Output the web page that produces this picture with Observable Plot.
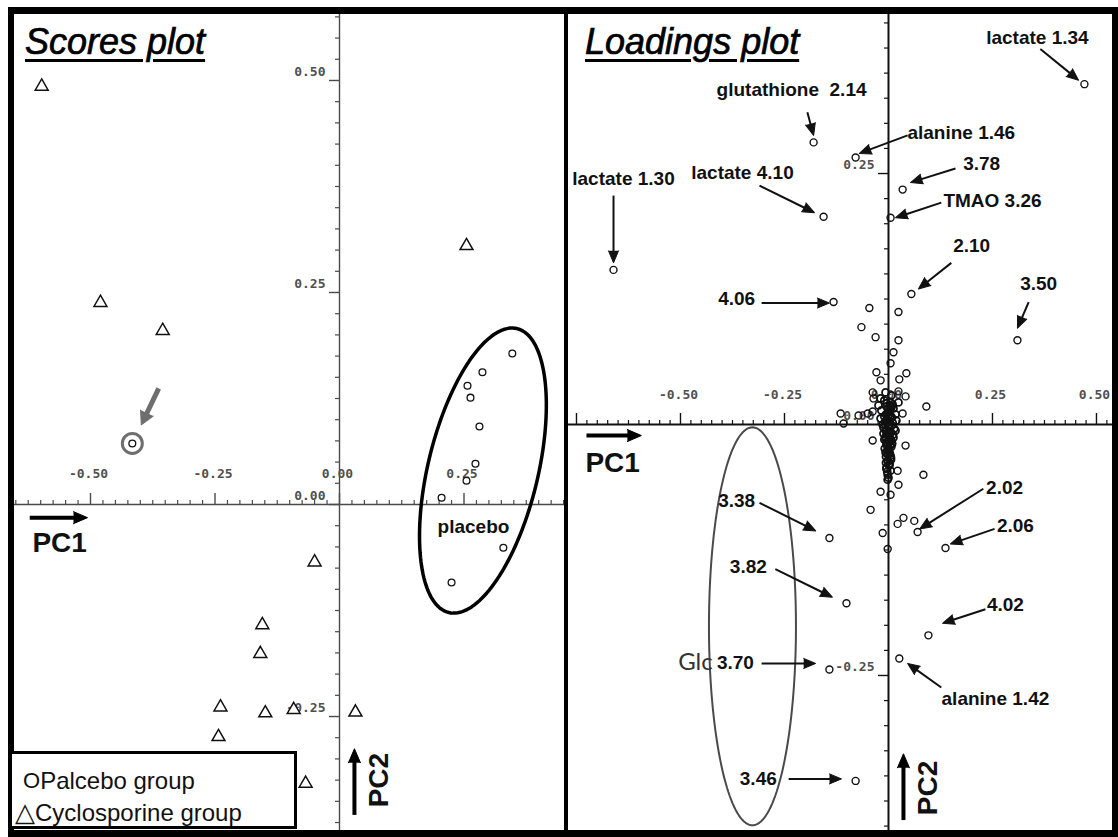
<!DOCTYPE html>
<html><head><meta charset="utf-8">
<script src="https://cdn.jsdelivr.net/npm/d3@7"></script>
<script src="https://cdn.jsdelivr.net/npm/@observablehq/plot@0.6"></script>
<style>
body{margin:0;background:#fff;}
#wrap{position:relative;width:1118px;height:837px;overflow:hidden;background:#fff;font-family:"Liberation Sans",Arial,sans-serif;}
.bar{position:absolute;background:#000;}
.panel{position:absolute;top:14px;}
.panel svg{overflow:visible;}
.title{position:absolute;top:24px;font-style:italic;font-size:36px;line-height:36px;color:#000;-webkit-text-stroke:0.7px #000;text-decoration:underline;text-decoration-thickness:3px;text-underline-offset:5px;white-space:nowrap;}
.legend{position:absolute;left:9px;top:751px;width:282px;height:72px;border:3px solid #000;background:#fff;font-size:24px;color:#111;}
.legend span{position:absolute;white-space:nowrap;}
</style></head><body>
<div id="wrap">
  <div id="scores" class="panel" style="left:14px"></div>
  <div id="loadings" class="panel" style="left:568px"></div>
  <div class="bar" style="left:8px;top:7px;width:1110px;height:7px"></div>
  <div class="bar" style="left:8px;top:7px;width:6px;height:830px"></div>
  <div class="bar" style="left:8px;top:830px;width:1110px;height:7px"></div>
  <div class="bar" style="left:564px;top:7px;width:4px;height:830px"></div>
  <div class="bar" style="left:1112px;top:7px;width:6px;height:830px"></div>
  <div class="title" style="left:25px">Scores plot</div>
  <div class="title" style="left:585px">Loadings plot</div>
  <div class="legend">
    <span style="left:11px;top:13px"><span style="position:relative;font-size:22px;top:-1px">O</span>Palcebo group</span>
    <span style="left:3px;top:43px"><span style="position:relative;font-family:'DejaVu Sans';font-size:26px">△</span>Cyclosporine group</span>
  </div>
</div>
<script>
// ---------- Scores plot data ----------
const placeboPC1 = [-0.416, 0.347, 0.287, 0.257, 0.263, 0.281, 0.273, 0.255, 0.205, 0.329, 0.225];
const placeboPC2 = [0.072, 0.178, 0.156, 0.140, 0.126, 0.092, 0.048, 0.028, 0.008, -0.051, -0.092];
const cycloPC1 = [-0.598, -0.480, -0.355, 0.255, -0.050, -0.155, -0.159, -0.239, -0.149, -0.092, 0.032, -0.243, -0.068];
const cycloPC2 = [0.493, 0.238, 0.205, 0.305, -0.068, -0.142, -0.176, -0.239, -0.246, -0.242, -0.245, -0.274, -0.329];
const scoreXTickLabels = ["-0.50", "-0.25", "0.00", "0.25"];
const scoreYTickLabels = ["0.50", "0.25", "0.00", "-0.25"];

// ---------- Loadings plot data ----------
const loadLabels = ["lactate 1.34", "glutathione  2.14", "alanine 1.46", "3.78", "TMAO 3.26", "lactate 4.10", "lactate 1.30", "4.06", "2.10", "3.50", "3.38", "3.82", "3.70", "3.46", "2.02", "2.06", "4.02", "alanine 1.42"];
const labeledPC1 = [0.471, -0.180, -0.079, 0.034, 0.005, -0.156, -0.661, -0.132, 0.055, 0.310, -0.142, -0.101, -0.142, -0.079, 0.070, 0.137, 0.096, 0.026];
const labeledPC2 = [0.339, 0.281, 0.266, 0.234, 0.206, 0.207, 0.154, 0.122, 0.130, 0.084, -0.113, -0.178, -0.244, -0.355, -0.107, -0.123, -0.210, -0.233];
const labelTextPC1 = [0.358, -0.233, 0.175, 0.224, 0.250, -0.351, -0.637, -0.365, 0.200, 0.361, -0.365, -0.337, -0.368, -0.313, 0.279, 0.305, 0.281, 0.257];
const labelTextPC2 = [0.385, 0.333, 0.290, 0.260, 0.223, 0.251, 0.245, 0.125, 0.178, 0.140, -0.076, -0.142, -0.237, -0.353, -0.063, -0.101, -0.180, -0.273];
const arrowFromPC1 = [0.365, -0.195, 0.046, 0.161, 0.127, -0.310, -0.661, -0.305, 0.151, 0.337, -0.310, -0.272, -0.305, -0.240, 0.228, 0.255, 0.233, 0.127];
const arrowFromPC2 = [0.374, 0.311, 0.288, 0.255, 0.221, 0.238, 0.228, 0.121, 0.161, 0.122, -0.078, -0.144, -0.238, -0.353, -0.064, -0.104, -0.184, -0.262];
const arrowToPC1 = [0.457, -0.180, -0.070, 0.053, 0.017, -0.178, -0.661, -0.142, 0.072, 0.310, -0.175, -0.135, -0.175, -0.113, 0.075, 0.149, 0.130, 0.046];
const arrowToPC2 = [0.343, 0.288, 0.270, 0.241, 0.206, 0.211, 0.161, 0.121, 0.135, 0.096, -0.106, -0.172, -0.238, -0.353, -0.104, -0.119, -0.198, -0.238];
const otherPC1 = [-0.046, 0.024, -0.065, -0.031, 0.024, 0.012, 0.005, -0.029, 0.043, -0.019, 0.026, -0.038, 0.024, -0.036, 0.041, 0.091, -0.115, -0.072, -0.050, -0.038, -0.108, 0.034, -0.038, 0.041, 0.005, 0.022, 0.084, 0.024, -0.019, 0.005, -0.043, 0.036, 0.022, 0.062, -0.014, -0.002];
const otherPC2 = [0.116, 0.112, 0.097, 0.087, 0.084, 0.072, 0.061, 0.052, 0.051, 0.044, 0.045, 0.032, 0.033, 0.026, 0.028, 0.018, 0.011, 0.009, 0.011, 0.013, 0.001, 0.011, -0.016, -0.021, -0.034, -0.046, -0.050, -0.060, -0.067, -0.070, -0.085, -0.093, -0.099, -0.096, -0.108, -0.124];
const clusterPC1 = [-0.010, 0.005, -0.005, 0.012, -0.017, 0.000, 0.017, -0.010, 0.005, -0.005, 0.010, -0.014, 0.000, 0.014, -0.007, 0.005, -0.002, 0.012, -0.010, 0.002, -0.005, 0.007, 0.000, -0.007, 0.005, -0.002, 0.002, -0.005, 0.010, -0.019, 0.019, -0.012, 0.017, -0.024, 0.024, -0.019, 0.007, -0.007,
  0.003, -0.003, 0.008, -0.008, 0.001, -0.012, 0.011, 0.004, -0.004, 0.009, -0.009, 0.002, -0.001, 0.006, -0.006, 0.003, -0.003, 0.000, 0.007, -0.007, 0.004, -0.002,
  -0.004, 0.004, -0.001, 0.001, -0.006, 0.006, -0.003, 0.003, -0.008, 0.008, 0.000, -0.005, 0.005, -0.002, 0.002, -0.007, 0.007, -0.004, 0.004, 0.000, -0.003, 0.003, -0.006, 0.006, -0.001, 0.001, -0.005, 0.005, 0.000, -0.002];
const clusterPC2 = [0.024, 0.022, 0.018, 0.016, 0.014, 0.012, 0.010, 0.008, 0.006, 0.004, 0.002, 0.000, -0.002, -0.004, -0.006, -0.008, -0.011, -0.013, -0.015, -0.017, -0.020, -0.022, -0.025, -0.028, -0.031, -0.036, -0.041, -0.044, 0.020, 0.006, 0.004, -0.009, -0.006, 0.019, 0.022, 0.026, 0.029, 0.032,
  0.015, 0.011, 0.007, 0.003, -0.001, -0.003, -0.010, -0.014, -0.018, -0.019, -0.024, -0.027, -0.030, -0.033, -0.038, -0.039, -0.047, 0.009, 0.017, -0.012, -0.016, -0.050,
  0.021, 0.019, 0.016, 0.013, 0.010, 0.008, 0.005, 0.003, 0.000, -0.001, -0.003, -0.005, -0.007, -0.009, -0.012, -0.014, -0.016, -0.018, -0.021, -0.023, -0.026, -0.029, -0.032, -0.035, -0.037, -0.040, -0.043, -0.046, -0.053, -0.055];
const loadXTickLabels = ["-0.50", "-0.25", "0.00", "0.25", "0.50"];
const loadYTickLabels = ["0.25", "0.00", "-0.25"];

// ---------- helpers ----------
function steps(dom, step) {
  const out = [], s = Math.ceil(dom[0] / step - 1e-6), e = Math.floor(dom[1] / step + 1e-6);
  for (let i = s; i <= e; i++) out.push(+(i * step).toFixed(4));
  return out;
}
const isMajor = v => Math.abs(v / 0.25 - Math.round(v / 0.25)) < 1e-6;
function ellipse(cx, cy, a, b, tiltDeg, kx, ky) {
  const p = tiltDeg * Math.PI / 180, pts = [];
  for (let i = 0; i <= 160; i++) {
    const t = i / 160 * 2 * Math.PI;
    const ux = a * Math.cos(t) * Math.sin(p) + b * Math.sin(t) * Math.cos(p);
    const uy = a * Math.cos(t) * Math.cos(p) - b * Math.sin(t) * Math.sin(p);
    pts.push({x: cx + ux / kx, y: cy + uy / ky});
  }
  return pts;
}
// shaft (link) + filled spike head at the end
function arrowMarks(data, kx, ky, o) {
  const heads = data.map(d => ({x: d.x2, y: d.y2, a: Math.atan2((d.x2 - d.x1) * kx, (d.y2 - d.y1) * ky) * 180 / Math.PI}));
  const shafts = data.map(d => {
    const px = (d.x2 - d.x1) * kx, py = (d.y2 - d.y1) * ky, L = Math.hypot(px, py), cut = Math.min(o.head * 0.6, L * 0.5) / L;
    return {x1: d.x1, y1: d.y1, x2: d.x2 - (d.x2 - d.x1) * cut, y2: d.y2 - (d.y2 - d.y1) * cut};
  });
  return [
    Plot.link(shafts, {x1: "x1", y1: "y1", x2: "x2", y2: "y2", stroke: o.color, strokeWidth: o.width}),
    Plot.vector(heads, {x: "x", y: "y", rotate: "a", length: o.head, anchor: "end", shape: "spike", r: o.r, stroke: o.color, fill: o.color, strokeWidth: 1})
  ];
}
const tickFont = {fontFamily: "DejaVu Sans Mono", fontSize: 13, fontWeight: "bold", fill: "#505050"};
const H = 816;

function axisMarks(xDom, yDom, W, xLabels, yLabels, axisColor, axisWidth, xdy) {
  const kx = W / (xDom[1] - xDom[0]), ky = H / (yDom[1] - yDom[0]);
  const xt = steps(xDom, 0.025), yt = steps(yDom, 0.025);
  return [
    Plot.ruleY([0], {stroke: axisColor, strokeWidth: axisWidth}),
    Plot.ruleX([0], {stroke: axisColor, strokeWidth: axisWidth}),
    Plot.ruleX(xt.filter(v => !isMajor(v)), {x: d => d, y1: 0, y2: 4 / ky, stroke: axisColor, strokeWidth: 1.2}),
    Plot.ruleX(xt.filter(isMajor), {x: d => d, y1: 0, y2: 11 / ky, stroke: axisColor, strokeWidth: 1.4}),
    Plot.ruleY(yt.filter(v => !isMajor(v)), {y: d => d, x1: -4 / kx, x2: 0, stroke: axisColor, strokeWidth: 1.2}),
    Plot.ruleY(yt.filter(isMajor), {y: d => d, x1: -10 / kx, x2: 0, stroke: axisColor, strokeWidth: 1.4}),
    Plot.text(xLabels, {x: d => +d, y: 0, text: d => d, dy: xdy, dx: -2, ...tickFont}),
    Plot.text(yLabels, {x: 0, y: d => +d, text: d => d, dx: -14, dy: -9, textAnchor: "end", ...tickFont})
  ];
}
const bigFont = {fontFamily: "Liberation Sans, Arial, sans-serif", fontWeight: "bold", fill: "#111"};
const lblFont = {fontFamily: "'Liberation Sans Narrow', 'Liberation Sans', Arial, sans-serif", fontWeight: "bold", fontSize: 19, fill: "#111"};

// ---------- Scores plot ----------
{
  const W = 550, xDom = [-0.6526, 0.4518], yDom = [-0.3844, 0.5778];
  const kx = W / (xDom[1] - xDom[0]), ky = H / (yDom[1] - yDom[0]);
  const placebo = placeboPC1.map((x, i) => ({x, y: placeboPC2[i]}));
  const cyclo = cycloPC1.map((x, i) => ({x, y: cycloPC2[i]}));
  const chart = Plot.plot({
    width: W, height: H, margin: 0,
    x: {domain: xDom, axis: null}, y: {domain: yDom, axis: null},
    style: {background: "transparent", overflow: "visible"},
    marks: [
      ...axisMarks(xDom, yDom, W, scoreXTickLabels, scoreYTickLabels, "#4a4a4a", 1.4, -31),
      Plot.line(ellipse(0.288, 0.040, 146, 55, 13.5, kx, ky), {x: "x", y: "y", stroke: "#000", strokeWidth: 3.5}),
      Plot.dot([placebo[0]], {x: "x", y: "y", r: 10, stroke: "#6e6e6e", strokeWidth: 3, fill: "none"}),
      ...arrowMarks([{x1: -0.363, y1: 0.137, x2: -0.398, y2: 0.094}], kx, ky, {color: "#6e6e6e", width: 5, head: 13, r: 7}),
      Plot.dot(cyclo, {x: "x", y: "y", symbol: "triangle", r: 4.8, stroke: "#111", strokeWidth: 1.5, fill: "white"}),
      Plot.dot(placebo, {x: "x", y: "y", symbol: "circle", r: 3.4, stroke: "#111", strokeWidth: 1.3, fill: "white"}),
      Plot.text(["placebo"], {x: 0.269, y: -0.026, text: d => d, fontSize: 19, ...bigFont}),
      ...arrowMarks([{x1: -0.622, y1: -0.0155, x2: -0.506, y2: -0.0155}], kx, ky, {color: "#000", width: 4, head: 14, r: 6}),
      Plot.text(["PC1"], {x: -0.562, y: -0.046, text: d => d, fontSize: 28, ...bigFont}),
      ...arrowMarks([{x1: 0.030, y1: -0.366, x2: 0.030, y2: -0.288}], kx, ky, {color: "#000", width: 4, head: 14, r: 6}),
      Plot.text(["PC2"], {x: 0.080, y: -0.325, text: d => d, rotate: -90, fontSize: 28, ...bigFont})
    ]
  });
  document.getElementById("scores").appendChild(chart);
}

// ---------- Loadings plot ----------
{
  const W = 544, xDom = [-0.7692, 0.5385], yDom = [-0.4044, 0.4084];
  const kx = W / (xDom[1] - xDom[0]), ky = H / (yDom[1] - yDom[0]);
  const pts = [
    ...otherPC1.map((x, i) => ({x, y: otherPC2[i]})),
    ...labeledPC1.map((x, i) => ({x, y: labeledPC2[i]}))
  ];
  const cluster = clusterPC1.map((x, i) => ({x, y: clusterPC2[i]}));
  const labels = loadLabels.map((t, i) => ({t, x: labelTextPC1[i], y: labelTextPC2[i]}));
  const arrows = loadLabels.map((t, i) => ({x1: arrowFromPC1[i], y1: arrowFromPC2[i], x2: arrowToPC1[i], y2: arrowToPC2[i]}));
  const chart = Plot.plot({
    width: W, height: H, margin: 0,
    x: {domain: xDom, axis: null}, y: {domain: yDom, axis: null},
    style: {background: "transparent", overflow: "visible"},
    marks: [
      ...axisMarks(xDom, yDom, W, loadXTickLabels, loadYTickLabels, "#111", 2, -30),
      Plot.line(ellipse(-0.327, -0.201, 199, 43.5, 0, kx, ky), {x: "x", y: "y", stroke: "#4a4a4a", strokeWidth: 2}),
      Plot.dot(pts, {x: "x", y: "y", r: 3.5, stroke: "#111", strokeWidth: 1.4, fill: "none"}),
      Plot.dot(cluster, {x: "x", y: "y", r: 3.5, stroke: "#111", strokeWidth: 1.8, fill: "none"}),
      ...arrowMarks(arrows, kx, ky, {color: "#111", width: 2, head: 12, r: 5}),
      Plot.text(labels, {x: "x", y: "y", text: "t", ...lblFont}),
      Plot.text(["Glc"], {x: -0.464, y: -0.237, text: d => d, fontFamily: "Lato, 'Open Sans', sans-serif", fontSize: 24, fill: "#333"}),
      ...arrowMarks([{x1: -0.726, y1: -0.011, x2: -0.594, y2: -0.011}], kx, ky, {color: "#000", width: 4, head: 14, r: 6}),
      Plot.text(["PC1"], {x: -0.663, y: -0.038, text: d => d, fontSize: 28, ...bigFont}),
      ...arrowMarks([{x1: 0.036, y1: -0.394, x2: 0.036, y2: -0.328}], kx, ky, {color: "#000", width: 4, head: 14, r: 6}),
      Plot.text(["PC2"], {x: 0.094, y: -0.362, text: d => d, rotate: -90, fontSize: 28, ...bigFont})
    ]
  });
  document.getElementById("loadings").appendChild(chart);
}
</script>
</body></html>
